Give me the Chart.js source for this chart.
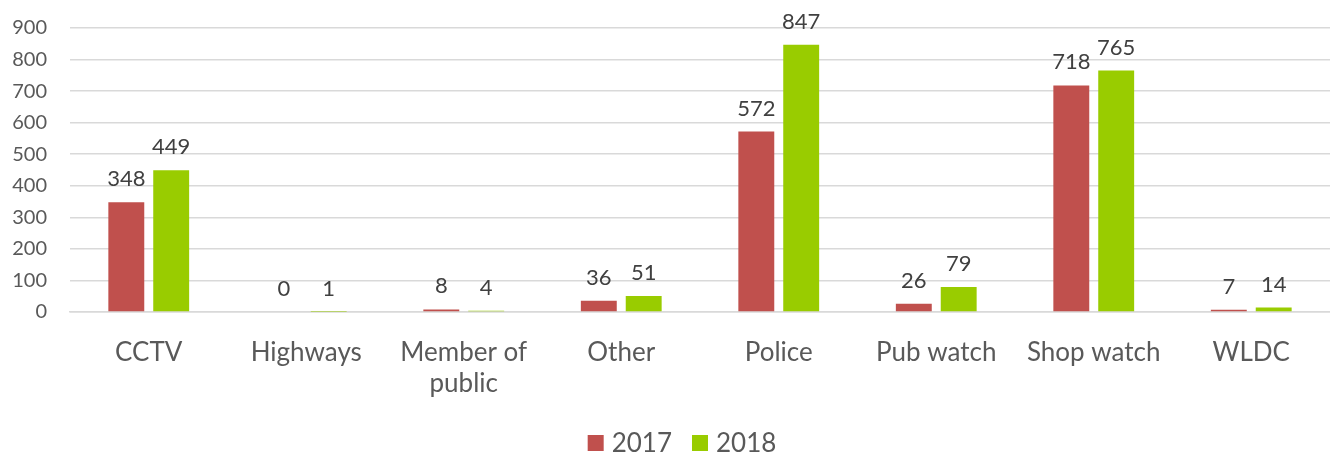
<!DOCTYPE html>
<html>
<head>
<meta charset="utf-8">
<script src="https://cdn.jsdelivr.net/npm/chart.js@4.4.0/dist/chart.umd.min.js"></script>
<style>
  html, body { margin: 0; padding: 0; background: #fff; }
  #wrap { width: 1330px; height: 462px; }
</style>
</head>
<body>
<div id="wrap"><canvas id="chart"></canvas></div>
<script>
/* ── data ── */
const CATEGORIES = ['CCTV', 'Highways', ['Member of', 'public'], 'Other', 'Police', 'Pub watch', 'Shop watch', 'WLDC'];
const VALUES_2017 = [348, 0, 8, 36, 572, 26, 718, 7];
const VALUES_2018 = [449, 1, 4, 51, 847, 79, 765, 14];
const Y_TICKS = [0, 100, 200, 300, 400, 500, 600, 700, 800, 900];

const FONT = 'Lato, "Open Sans", sans-serif';
const TEXT = '#595959';
const LEGEND_CX = 682;
const LEGEND_Y = 443;

// value labels drawn above each bar
const barLabels = {
  id: 'barLabels',
  afterDatasetsDraw(chart) {
    const ctx = chart.ctx;
    ctx.save();
    ctx.font = '22px ' + FONT;
    ctx.fillStyle = '#404040';
    ctx.textAlign = 'center';
    ctx.textBaseline = 'alphabetic';
    chart.data.datasets.forEach((ds, i) => {
      chart.getDatasetMeta(i).data.forEach((bar, j) => {
        ctx.fillText(ds.data[j], bar.x, bar.y - 16);
      });
    });
    ctx.restore();
  }
};

// simple legend at the bottom (box + label, centred)
const bottomLegend = {
  id: 'bottomLegend',
  afterDraw(chart) {
    const ctx = chart.ctx;
    ctx.save();
    ctx.font = '26px ' + FONT;
    ctx.textBaseline = 'middle';
    const items = chart.data.datasets.map(ds => ({ text: ds.label, color: ds.backgroundColor, w: ctx.measureText(ds.label).width }));
    const total = items.reduce((s, it) => s + 16 + 8 + it.w, 0) + 20 * (items.length - 1);
    let x = LEGEND_CX - total / 2;
    items.forEach(it => {
      ctx.fillStyle = it.color;
      ctx.fillRect(x, LEGEND_Y - 8, 16, 16);
      ctx.fillStyle = TEXT;
      ctx.fillText(it.text, x + 24, LEGEND_Y + 1);
      x += 24 + it.w + 20;
    });
    ctx.restore();
  }
};

new Chart(document.getElementById('chart'), {
  type: 'bar',
  data: {
    labels: CATEGORIES,
    datasets: [
      { label: '2017', data: VALUES_2017, backgroundColor: '#C0504D', categoryPercentage: 0.57, barPercentage: 0.8 },
      { label: '2018', data: VALUES_2018, backgroundColor: '#99CC00', categoryPercentage: 0.57, barPercentage: 0.8 }
    ]
  },
  options: {
    responsive: true,
    maintainAspectRatio: false,
    animation: false,
    layout: { padding: { top: 28, right: 0, left: 0, bottom: 38 } },
    plugins: {
      legend: { display: false },
      tooltip: { enabled: false }
    },
    scales: {
      y: {
        min: 0, max: 900,
        afterBuildTicks: axis => { axis.ticks = Y_TICKS.map(v => ({ value: v })); },
        afterFit: axis => { axis.width = 70; axis.paddingTop = 0; axis.paddingBottom = 0; },
        ticks: { font: { size: 20, family: FONT }, color: TEXT, padding: 23 },
        grid: { color: '#D9D9D9', lineWidth: 1.5, drawTicks: false },
        border: { display: false }
      },
      x: {
        afterFit: axis => { axis.height = 112; },
        ticks: { font: { size: 26, family: FONT }, color: TEXT, maxRotation: 0, autoSkip: false, padding: 17 },
        grid: { display: false },
        border: { color: '#D9D9D9', width: 1.5 }
      }
    }
  },
  plugins: [barLabels, bottomLegend]
});
</script>
</body>
</html>
